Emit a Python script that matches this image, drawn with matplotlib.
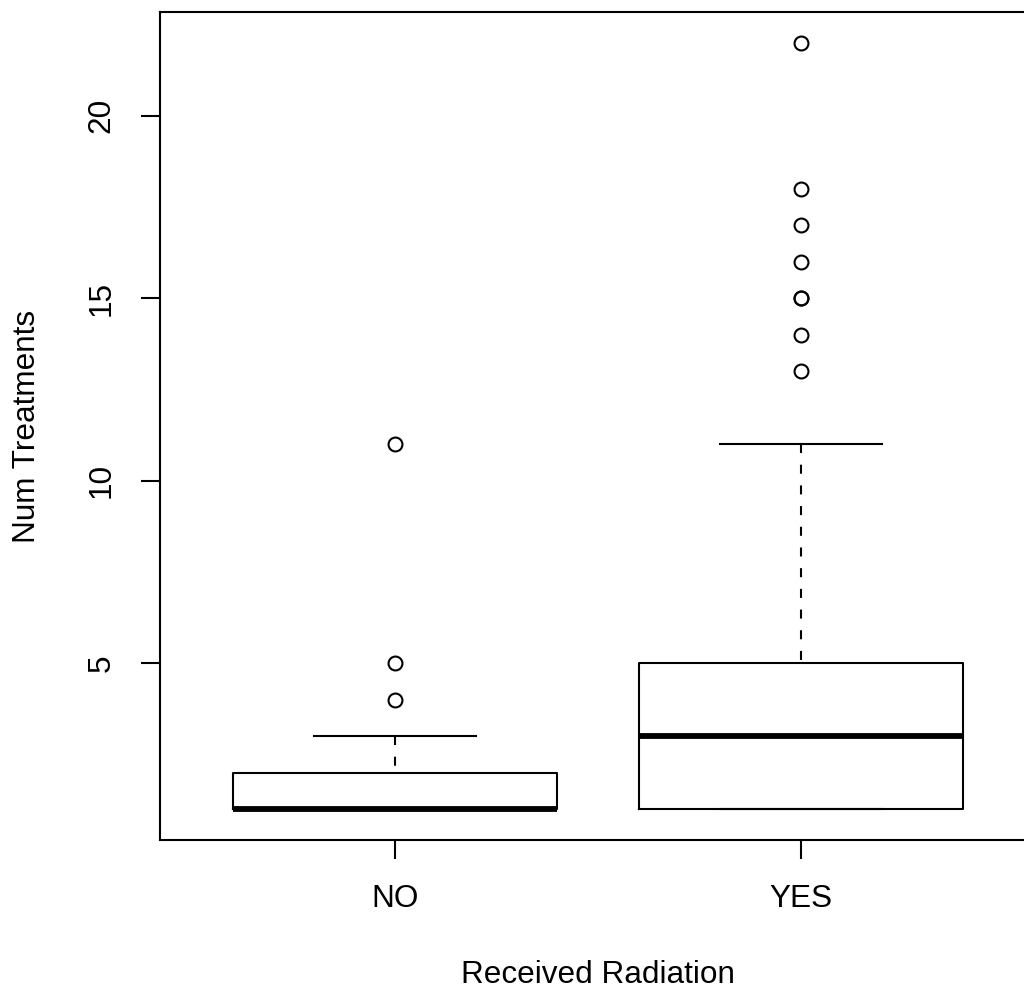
import matplotlib
matplotlib.use("Agg")
import matplotlib.pyplot as plt

# treatment counts summarised per group
groups = ["NO", "YES"]
q1 = [1, 1]
medians = [1, 3]
q3 = [2, 5]
whisk_lo = [1, 1]
whisk_hi = [3, 11]
outliers = [[4, 5, 11], [13, 14, 15, 15, 16, 17, 18, 22]]
yticks = [5, 10, 15, 20]

plt.rcParams["font.family"] = ["Liberation Sans", "DejaVu Sans"]
plt.rcParams["lines.scale_dashes"] = False

W, H = 1024, 992
fig = plt.figure(figsize=(W / 100, H / 100), dpi=100)
left, right, top, bottom = 160, 1036, 12, 840
ax = fig.add_axes([left / W, (H - bottom) / H, (right - left) / W, (bottom - top) / H])

stats = []
for i, g in enumerate(groups):
    stats.append(dict(label=g, q1=q1[i], med=medians[i], q3=q3[i],
                      whislo=whisk_lo[i], whishi=whisk_hi[i], fliers=outliers[i]))

lw = 1.5
parts = ax.bxp(stats, positions=[1, 2], widths=0.8, capwidths=0.4,
               boxprops=dict(color="black", linewidth=lw),
               whiskerprops=dict(color="black", linewidth=lw, linestyle=(0, (6.5, 8.4))),
               capprops=dict(color="black", linewidth=lw),
               medianprops=dict(color="black", linewidth=4.2, solid_capstyle="butt"),
               flierprops=dict(marker="o", markersize=10, markerfacecolor="none",
                               markeredgecolor="black", markeredgewidth=1.5, linestyle="none"))

# dash pattern runs from the whisker end back towards the box
for wl in parts["whiskers"]:
    x, y = wl.get_data()
    wl.set_data(list(x)[::-1], list(y)[::-1])

ax.set_xlim(0.42, 2.58)
ax.set_ylim(0.16, 22.84)
ax.set_yticks(yticks)
ax.set_xticks([1, 2])
ax.set_xticklabels(groups)

fs = 22.7
ax.tick_params(axis="both", length=13.7, width=lw, labelsize=fs, color="black")
ax.tick_params(axis="x", pad=18)
ax.tick_params(axis="y", pad=17.5)
for lab in ax.get_yticklabels():
    lab.set_rotation(90)
    lab.set_va("center")

for sp in ax.spines.values():
    sp.set_linewidth(lw)

ax.set_xlabel("Received Radiation", fontsize=fs)
ax.set_ylabel("Num Treatments", fontsize=fs)
ax.xaxis.set_label_coords(0.5, (bottom - 975) / (bottom - top))
ax.yaxis.set_label_coords((27 - left) / (right - left), 0.5)
ax.xaxis.label.set_va("center")
ax.yaxis.label.set_va("center")

fig.savefig("out.png", dpi=100)
